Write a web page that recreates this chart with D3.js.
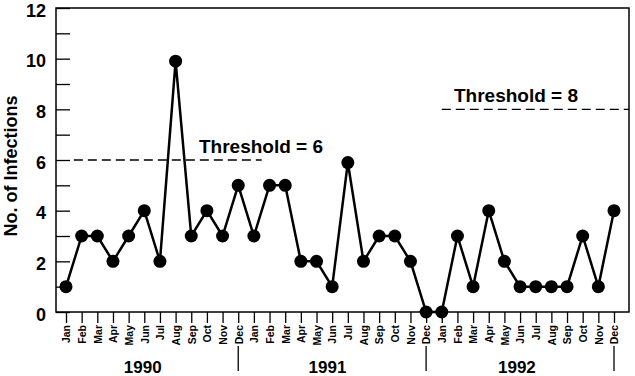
<!DOCTYPE html>
<html>
<head>
<meta charset="utf-8">
<script src="https://cdn.jsdelivr.net/npm/d3@7"></script>
<style>
  body { margin: 0; background: #fff; }
  text { font-family: "Liberation Sans", Arial, sans-serif; font-weight: bold; fill: #000; }
</style>
</head>
<body>
<svg id="chart" width="635" height="376"></svg>
<script>
// dati
const mesi = ["Jan", "Feb", "Mar", "Apr", "May", "Jun", "Jul", "Aug", "Sep", "Oct", "Nov", "Dec"];
const anni = ["1990", "1991", "1992"];
const infezioni1990 = [1, 3, 3, 2, 3, 4, 2, 9.9, 3, 4, 3, 5];
const infezioni1991 = [3, 5, 5, 2, 2, 1, 5.9, 2, 3, 3, 2, 0];
const infezioni1992 = [0, 3, 1, 4, 2, 1, 1, 1, 1, 3, 1, 4];
const yTicks = [0, 1, 2, 3, 4, 5, 6, 7, 8, 9, 10, 11, 12];
// soglie: valore, mese di inizio e fine (indice)
const soglie = [
  { valore: 6, da: 0.5, a: 12.5, testo: "Threshold = 6" },
  { valore: 8, da: 24, a: 36, testo: "Threshold = 8" }
];

const valori = infezioni1990.concat(infezioni1991, infezioni1992);
const dati = valori.map((v, i) => ({ i: i, v: v, mese: mesi[i % 12] }));

const svg = d3.select("#chart");
const mSx = 56, mDx = 629, mSu = 8, mGiu = 312;

const x = d3.scaleLinear().domain([0, 35]).range([66, 614]);
const y = d3.scaleLinear().domain([0, 12]).range([mGiu, mSu]);

// cornice
svg.append("rect")
  .attr("x", mSx).attr("y", mSu)
  .attr("width", mDx - mSx).attr("height", mGiu - mSu)
  .attr("fill", "none").attr("stroke", "#000").attr("stroke-width", 1.5);

// asse y con tacche interne
const yAxis = svg.append("g")
  .attr("transform", `translate(${mSx},0)`)
  .call(d3.axisLeft(y).tickValues(yTicks).tickSize(-14)
    .tickFormat(d => d % 2 === 0 ? d : ""));
yAxis.select(".domain").remove();
yAxis.selectAll(".tick line").attr("stroke", "#000").attr("stroke-width", 1.3);
yAxis.selectAll(".tick text")
  .style("font-size", "18px")
  .attr("x", -10)
  .attr("y", 2.5);

// asse x con mesi ruotati
const xAxis = svg.append("g")
  .attr("transform", `translate(0,${mGiu})`)
  .call(d3.axisBottom(x).tickValues(d3.range(36)).tickSize(11)
    .tickFormat(i => mesi[i % 12]));
xAxis.select(".domain").remove();
xAxis.selectAll(".tick line").attr("stroke", "#000").attr("stroke-width", 1.3);
xAxis.selectAll(".tick text")
  .style("font-size", "10.5px")
  .attr("text-anchor", "end")
  .attr("dy", null)
  .attr("x", -13)
  .attr("y", 3.8)
  .attr("transform", "rotate(-90)");

// separatori tra gli anni
[11, 23, 35].forEach(i => {
  svg.append("line")
    .attr("x1", x(i)).attr("x2", x(i))
    .attr("y1", 346).attr("y2", 371)
    .attr("stroke", "#000").attr("stroke-width", 1.3);
});

// etichette anni
const posAnni = [4.9, 16.7, 28.8];
svg.selectAll(".anno")
  .data(anni)
  .enter().append("text")
  .attr("class", "anno")
  .attr("x", (d, k) => x(posAnni[k]))
  .attr("y", 373)
  .attr("text-anchor", "middle")
  .style("font-size", "17px")
  .text(d => d);

// titolo asse y
svg.append("text")
  .attr("transform", "translate(17,166) rotate(-90)")
  .attr("text-anchor", "middle")
  .style("font-size", "18px")
  .text("No. of Infections");

// linee di soglia
soglie.forEach(s => {
  svg.append("line")
    .attr("x1", x(s.da)).attr("x2", Math.min(x(s.a), mDx))
    .attr("y1", y(s.valore)).attr("y2", y(s.valore))
    .attr("stroke", "#000").attr("stroke-width", 1.4)
    .attr("stroke-dasharray", "9,5");
});
svg.append("text")
  .attr("x", 199).attr("y", y(6) - 7)
  .style("font-size", "19px")
  .text(soglie[0].testo);
svg.append("text")
  .attr("x", 454).attr("y", y(8) - 7)
  .style("font-size", "19px")
  .text(soglie[1].testo);

// linea dei dati
const linea = d3.line().x(d => x(d.i)).y(d => y(d.v));
svg.append("path")
  .datum(dati)
  .attr("d", linea)
  .attr("fill", "none")
  .attr("stroke", "#000")
  .attr("stroke-width", 2.5);

svg.append("g")
  .selectAll("circle")
  .data(dati)
  .enter().append("circle")
  .attr("cx", d => x(d.i))
  .attr("cy", d => y(d.v))
  .attr("r", 6.5)
  .attr("fill", "#000");
</script>
</body>
</html>
